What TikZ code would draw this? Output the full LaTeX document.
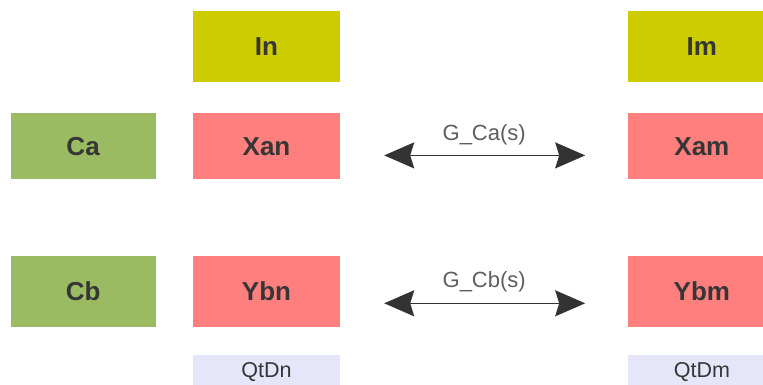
\documentclass[tikz,border=0pt]{standalone}
\usepackage{fontspec}
\setmainfont{Liberation Sans}
\usetikzlibrary{arrows.meta,positioning}

\definecolor{gelb}{HTML}{CCCC00}
\definecolor{gruen}{HTML}{9BBB62}
\definecolor{rot}{HTML}{FF7F7F}
\definecolor{lila}{HTML}{E6E6FA}
\definecolor{schrift}{HTML}{363636}
\definecolor{linie}{HTML}{333333}

\begin{document}
\begin{tikzpicture}[
	x=1pt, y=1pt,
	node distance=31pt,
	kasten/.style={
		minimum width=147pt,
		minimum height=71pt,
		inner sep=0pt,
		text=schrift,
		font=\fontsize{26}{30}\selectfont\bfseries
	},
	eingang/.style={kasten, fill=gelb},
	regler/.style={kasten, fill=gruen, minimum width=145pt},
	zustand/.style={kasten, fill=rot},
	stoerung/.style={
		kasten,
		fill=lila,
		minimum height=34pt,
		font=\fontsize{21.5}{25}\selectfont
	},
	pfeil/.style={
		line width=1.6pt,
		draw=linie,
		{Stealth[length=30pt,width=26pt,inset=4pt]}-{Stealth[length=30pt,width=26pt,inset=4pt]},
		shorten <=44pt,
		shorten >=43pt
	},
	marke/.style={
		midway,
		above=10pt,
		inner sep=0pt,
		text=schrift!80,
		font=\fontsize{22}{26}\selectfont
	}
]
\useasboundingbox (0,0) rectangle (763,-385);

% linke Seite
\node[eingang] (In) at (266.5,-46.5) {In};
\node[zustand, minimum height=66pt] (Xan) [below=of In] {Xan};
\node[regler, minimum height=66pt] (Ca) [left=37pt of Xan] {Ca};
\node[zustand] (Ybn) [below=76pt of Xan] {Ybn};
\node[regler] (Cb) [left=37pt of Ybn] {Cb};
\node[stoerung] (QtDn) [below=28pt of Ybn] {QtDn};

% rechte Seite
\node[zustand, minimum height=66pt] (Xam) [right=288pt of Xan] {Xam};
\node[eingang] (Im) [above=of Xam] {Im};
\node[zustand] (Ybm) [right=288pt of Ybn] {Ybm};
\node[stoerung] (QtDm) [below=28pt of Ybm] {QtDm};

\draw[pfeil] ([yshift=-9pt]Xan.east) -- ([yshift=-9pt]Xam.west)
	node[marke] {G\_Ca(s)};
\draw[pfeil] ([yshift=-12pt]Ybn.east) -- ([yshift=-12pt]Ybm.west)
	node[marke] {G\_Cb(s)};

\end{tikzpicture}
\end{document}
